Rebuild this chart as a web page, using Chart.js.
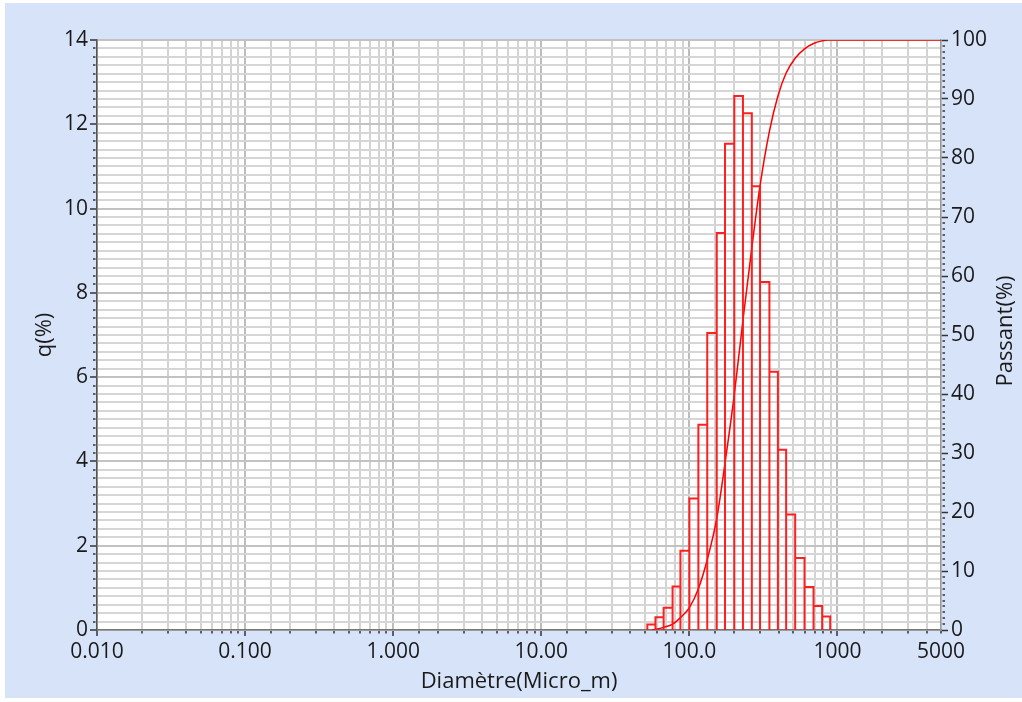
<!DOCTYPE html>
<html lang="fr">
<head>
    <meta charset="UTF-8">
    <title>Granulométrie</title>
    <style>
        body {
            margin: 0;
            background-color: #ffffff;
        }
        canvas {
            display: block;
        }
    </style>
    <script src="https://cdn.jsdelivr.net/npm/chart.js"></script>
</head>
<body>
    <canvas id="chart" width="1022" height="702"></canvas>

    <script>
        // bornes des classes (micro_m) et q(%) de chaque classe
        const binEdges = [52, 59, 67, 77, 87, 100, 115, 132, 153, 174, 201, 230, 264, 300, 347, 396, 450, 518, 599, 689, 788, 893];
        const qValues = [0.13, 0.30, 0.53, 1.03, 1.88, 3.12, 4.87, 7.05, 9.42, 11.54, 12.67, 12.26, 10.53, 8.26, 6.13, 4.28, 2.74, 1.71, 1.02, 0.57, 0.32];

        // courbe du passant cumulé
        const passantX = [56, 59, 67, 77, 87, 100, 115, 132, 153, 174, 201, 230, 264, 300, 347, 396, 450, 518, 599, 689, 788, 860, 5000];
        const passantY = [0, 0.1, 0.45, 1.0, 2.1, 3.8, 7.0, 11.9, 18.9, 28.3, 39.9, 52.5, 64.8, 75.3, 84.5, 90.5, 94.4, 96.9, 98.5, 99.4, 99.85, 100, 100];

        // étiquettes de l'axe des diamètres
        const xTickValues = [0.01, 0.1, 1, 10, 100, 1000, 5000];
        const xTickLabels = ['0.010', '0.100', '1.000', '10.00', '100.0', '1000', '5000'];

        const textColor = '#1a1a1a';
        const tickFont = { family: "'Open Sans', sans-serif", size: 21 };
        const titleFont = { family: "'Open Sans', sans-serif", size: 22 };

        function isDecade(v) {
            const l = Math.log10(v);
            return Math.abs(l - Math.round(l)) < 1e-6;
        }

        function isMultiple(v, m) {
            return Math.abs(v / m - Math.round(v / m)) < 1e-6;
        }

        function xLabel(v) {
            const i = xTickValues.findIndex(t => Math.abs(Math.log10(t) - Math.log10(v)) < 1e-6);
            return i >= 0 ? xTickLabels[i] : '';
        }

        // contour de chaque barre de l'histogramme
        const histPoints = [];
        qValues.forEach((q, i) => {
            histPoints.push({ x: binEdges[i], y: 0 });
            histPoints.push({ x: binEdges[i], y: q });
            histPoints.push({ x: binEdges[i + 1], y: q });
            histPoints.push({ x: binEdges[i + 1], y: 0 });
        });

        const passantPoints = passantX.map((x, i) => ({ x: x, y: passantY[i] }));

        const background = {
            id: 'background',
            beforeDraw(chart) {
                const ctx = chart.ctx;
                const a = chart.chartArea;
                ctx.save();
                ctx.fillStyle = '#ffffff';
                ctx.fillRect(0, 0, chart.width, chart.height);
                ctx.fillStyle = '#d6e3f8';
                ctx.fillRect(5, 3, chart.width - 5, chart.height - 7);
                ctx.fillStyle = '#ffffff';
                ctx.fillRect(a.left, a.top, a.right - a.left, a.bottom - a.top);
                ctx.restore();
            }
        };

        // petites graduations secondaires + titre de l'axe de droite
        const extras = {
            id: 'extras',
            afterDraw(chart) {
                const ctx = chart.ctx;
                const a = chart.chartArea;
                const sx = chart.scales.x, sy = chart.scales.y, sy1 = chart.scales.y1;
                ctx.save();
                ctx.strokeStyle = '#333';
                ctx.lineWidth = 1.5;
                ctx.beginPath();
                sx.ticks.forEach(t => {
                    if (isDecade(t.value)) return;
                    const px = Math.round(sx.getPixelForValue(t.value));
                    ctx.moveTo(px, a.bottom + 1);
                    ctx.lineTo(px, a.bottom + 3.5);
                });
                sy.ticks.forEach(t => {
                    if (isMultiple(t.value, 2)) return;
                    const py = Math.round(sy.getPixelForValue(t.value));
                    ctx.moveTo(a.left - 4, py);
                    ctx.lineTo(a.left - 1.5, py);
                });
                sy1.ticks.forEach(t => {
                    if (isMultiple(t.value, 10)) return;
                    const py = Math.round(sy1.getPixelForValue(t.value));
                    ctx.moveTo(a.right + 1.5, py);
                    ctx.lineTo(a.right + 4, py);
                });
                ctx.stroke();

                ctx.fillStyle = textColor;
                ctx.font = titleFont.size + 'px ' + titleFont.family;
                ctx.textAlign = 'center';
                ctx.textBaseline = 'middle';
                ctx.translate(chart.width - 16, (a.top + a.bottom) / 2 - 4);
                ctx.rotate(-Math.PI / 2);
                ctx.fillText('Passant(%)', 0, 0);
                ctx.restore();
            }
        };

        new Chart(document.getElementById('chart'), {
            type: 'line',
            data: {
                datasets: [{
                    label: 'q(%)',
                    data: histPoints,
                    yAxisID: 'y',
                    borderColor: 'rgba(255, 20, 20, 0.95)',
                    borderWidth: 2,
                    pointRadius: 0,
                    tension: 0
                }, {
                    label: 'Passant(%)',
                    data: passantPoints,
                    yAxisID: 'y1',
                    borderColor: '#ff0000',
                    borderWidth: 1.5,
                    pointRadius: 0,
                    cubicInterpolationMode: 'monotone'
                }]
            },
            options: {
                responsive: false,
                animation: false,
                layout: {
                    padding: { top: 40, left: 0, right: 0, bottom: 0 }
                },
                plugins: {
                    legend: { display: false },
                    tooltip: { enabled: false }
                },
                scales: {
                    x: {
                        type: 'logarithmic',
                        position: 'bottom',
                        min: 0.01,
                        max: 5000,
                        grid: {
                            color: c => (c.tick && isDecade(c.tick.value)) ? '#bcbcbc' : '#d3d3d3',
                            lineWidth: 2,
                            tickLength: 6,
                            tickWidth: 1.5,
                            tickColor: c => (c.tick && isDecade(c.tick.value)) ? '#333' : 'rgba(0,0,0,0)'
                        },
                        border: { color: '#777', width: 1.5 },
                        ticks: {
                            autoSkip: false,
                            maxRotation: 0,
                            padding: 3,
                            font: tickFont,
                            color: textColor,
                            callback: v => xLabel(v)
                        },
                        title: {
                            display: true,
                            text: 'Diamètre(Micro_m)',
                            font: titleFont,
                            color: textColor,
                            padding: { top: 0, bottom: 7 }
                        },
                        afterFit: s => { s.height = 72; }
                    },
                    y: {
                        position: 'left',
                        min: 0,
                        max: 14,
                        grid: {
                            color: c => (c.tick && isMultiple(c.tick.value, 2)) ? '#c2c2c2' : '#d6d6d6',
                            lineWidth: 2,
                            tickLength: 7,
                            tickWidth: 1.5,
                            tickColor: c => (c.tick && isMultiple(c.tick.value, 2)) ? '#333' : 'rgba(0,0,0,0)'
                        },
                        border: { color: '#555', width: 1.5 },
                        ticks: {
                            stepSize: 0.2,
                            autoSkip: false,
                            padding: 2,
                            font: tickFont,
                            color: textColor,
                            callback: v => isMultiple(v, 2) ? String(Math.round(v)) : ''
                        },
                        title: {
                            display: true,
                            text: 'q(%)',
                            font: titleFont,
                            color: textColor,
                            padding: { top: 32, bottom: 0 }
                        },
                        afterFit: s => { s.width = 97; }
                    },
                    y1: {
                        position: 'right',
                        min: 0,
                        max: 100,
                        grid: {
                            drawOnChartArea: false,
                            tickLength: 7,
                            tickWidth: 1.5,
                            tickColor: c => (c.tick && isMultiple(c.tick.value, 10)) ? '#333' : 'rgba(0,0,0,0)'
                        },
                        border: { color: '#999', width: 1.5 },
                        ticks: {
                            stepSize: 1,
                            autoSkip: false,
                            padding: 3,
                            font: tickFont,
                            color: textColor,
                            callback: v => isMultiple(v, 10) ? String(Math.round(v)) : ''
                        },
                        afterFit: s => { s.width = 81; }
                    }
                }
            },
            plugins: [background, extras]
        });
    </script>
</body>
</html>
